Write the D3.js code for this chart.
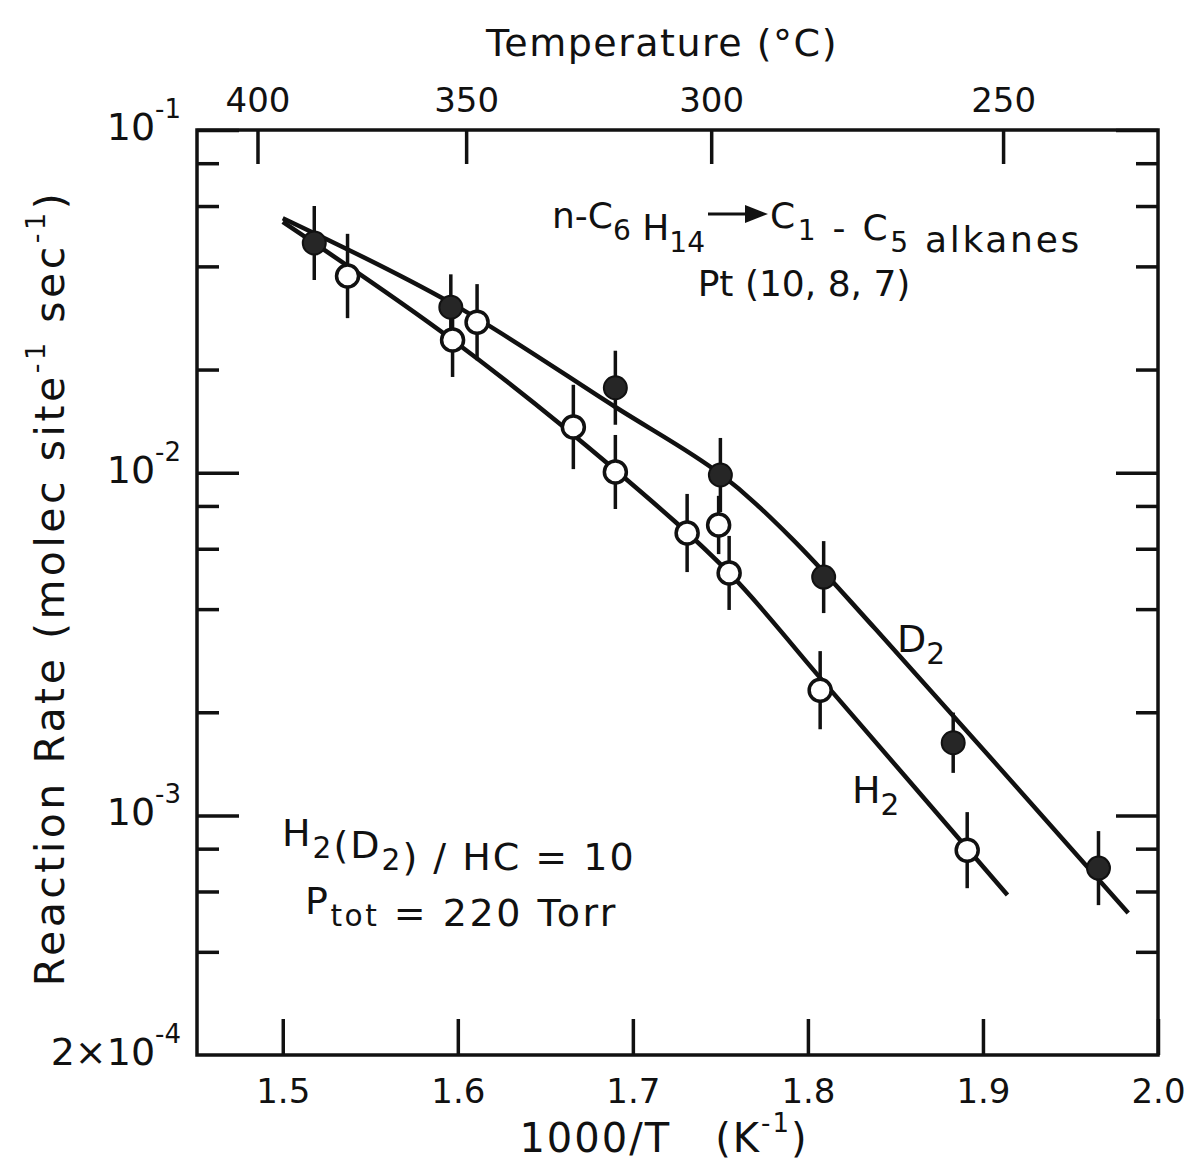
<!DOCTYPE html>
<html>
<head>
<meta charset="utf-8">
<script src="https://cdn.jsdelivr.net/npm/d3@7"></script>
<style>
  body { margin: 0; background: #fff; }
  svg text { font-family: "DejaVu Sans", sans-serif; fill: #111; }
</style>
</head>
<body>
<div class="container"></div>
<script>
// axis ticks
const xTicks = [1.5, 1.6, 1.7, 1.8, 1.9, 2.0];
const tempTicks = [400, 350, 300, 250];
const yMajor = [1e-1, 1e-2, 1e-3];
const yMinor = [8e-2, 6e-2, 4e-2, 2e-2, 8e-3, 6e-3, 4e-3, 2e-3, 8e-4, 6e-4, 4e-4];

// D2 points (filled)
const d2X = [1.518, 1.596, 1.690, 1.750, 1.809, 1.883, 1.966];
const d2Rate = [0.0468, 0.0304, 0.0177, 0.00985, 0.00496, 0.00163, 0.000702];
const d2Err = [0.108, 0.096, 0.108, 0.108, 0.105, 0.088, 0.108];

// H2 points (open)
const h2X = [1.537, 1.597, 1.611, 1.666, 1.690, 1.731, 1.749, 1.755, 1.807, 1.891];
const h2Rate = [0.0375, 0.0244, 0.0275, 0.0136, 0.01005, 0.00667, 0.00704, 0.0051, 0.00232, 0.000792];
const h2Err = [0.123, 0.108, 0.111, 0.123, 0.108, 0.114, 0.085, 0.108, 0.114, 0.111];

// hand-drawn fit curves
const d2FitX = [1.500, 1.596, 1.690, 1.750, 1.790, 1.839, 1.983];
const d2FitRate = [0.0553, 0.0313, 0.01555, 0.00991, 0.00649, 0.00348, 0.000519];
const h2FitX = [1.500, 1.597, 1.690, 1.755, 1.807, 1.914];
const h2FitRate = [0.0539, 0.0244, 0.01018, 0.0051, 0.00252, 0.000586];

const width = 1195;
const height = 1165;
const margin = { top: 130, right: 37, bottom: 110, left: 197 };
const w = width - margin.left - margin.right;
const h = height - margin.top - margin.bottom;

const svg = d3.select('.container')
    .append('svg')
    .attr('width', width)
    .attr('height', height);

const g = svg.append('g')
    .attr('transform', `translate(${margin.left}, ${margin.top})`);

const x = d3.scaleLinear().domain([1.451, 2.0]).range([0, w]);
const y = d3.scaleLog().domain([2e-4, 1e-1]).range([h, 0]);

function styleAxis(sel) {
    sel.select('.domain').remove();
    sel.selectAll('.tick line').attr('stroke', '#111').attr('stroke-width', 3.5);
    sel.selectAll('.tick text').style('font-size', '34px').attr('fill', '#111');
}

// left / right ticks
g.append('g').call(d3.axisLeft(y).tickValues(yMajor).tickSize(-42).tickFormat('')).call(styleAxis);
g.append('g').call(d3.axisLeft(y).tickValues(yMinor).tickSize(-22).tickFormat('')).call(styleAxis);
g.append('g').attr('transform', `translate(${w},0)`)
    .call(d3.axisRight(y).tickValues(yMajor).tickSize(-42).tickFormat('')).call(styleAxis);
g.append('g').attr('transform', `translate(${w},0)`)
    .call(d3.axisRight(y).tickValues(yMinor).tickSize(-22).tickFormat('')).call(styleAxis);

// bottom ticks
g.append('g').attr('transform', `translate(0,${h})`)
    .call(d3.axisBottom(x).tickValues(xTicks).tickSize(-36).tickPadding(24).tickFormat(d3.format('.1f')))
    .call(styleAxis);

// top temperature ticks
g.append('g')
    .call(d3.axisTop(x).tickValues(tempTicks.map(t => 1000 / (t + 273.15)))
        .tickSize(-34).tickPadding(18).tickFormat((d, i) => tempTicks[i]))
    .call(styleAxis);

// frame
g.append('rect')
    .attr('width', w).attr('height', h)
    .attr('fill', 'none').attr('stroke', '#111').attr('stroke-width', 3.5);

// y tick labels
const yLabels = [
    { v: 1e-1, base: '10', sup: '-1' },
    { v: 1e-2, base: '10', sup: '-2' },
    { v: 1e-3, base: '10', sup: '-3' },
    { v: 2e-4, base: '2\u00d710', sup: '-4' }
];
yLabels.forEach(l => {
    const t = g.append('text')
        .attr('x', -16).attr('y', y(l.v) + 10)
        .attr('text-anchor', 'end')
        .style('font-size', '38px');
    t.append('tspan').text(l.base);
    t.append('tspan').attr('dy', -22).style('font-size', '26px').text(l.sup);
});

// fit curves
const line = d3.line()
    .x(d => x(d[0]))
    .y(d => y(d[1]))
    .curve(d3.curveCatmullRom.alpha(0.5));

g.append('path')
    .attr('d', line(d2FitX.map((v, i) => [v, d2FitRate[i]])))
    .attr('fill', 'none').attr('stroke', '#111').attr('stroke-width', 4.5);
g.append('path')
    .attr('d', line(h2FitX.map((v, i) => [v, h2FitRate[i]])))
    .attr('fill', 'none').attr('stroke', '#111').attr('stroke-width', 4.5);

// error bars
function errBars(xs, rates, errs) {
    g.append('g').selectAll('line')
        .data(xs)
        .join('line')
        .attr('x1', d => x(d)).attr('x2', d => x(d))
        .attr('y1', (d, i) => y(rates[i] * Math.pow(10, errs[i])))
        .attr('y2', (d, i) => y(rates[i] / Math.pow(10, errs[i])))
        .attr('stroke', '#111').attr('stroke-width', 3.5);
}
errBars(d2X, d2Rate, d2Err);
errBars(h2X, h2Rate, h2Err);

// markers
g.append('g').selectAll('circle')
    .data(h2X)
    .join('circle')
    .attr('cx', d => x(d)).attr('cy', (d, i) => y(h2Rate[i]))
    .attr('r', 11)
    .attr('fill', '#fff').attr('stroke', '#111').attr('stroke-width', 3.5);

g.append('g').selectAll('circle')
    .data(d2X)
    .join('circle')
    .attr('cx', d => x(d)).attr('cy', (d, i) => y(d2Rate[i]))
    .attr('r', 11.5)
    .attr('fill', '#262626').attr('stroke', '#111').attr('stroke-width', 2);

// axis titles
svg.append('text')
    .attr('x', 662).attr('y', 56)
    .attr('text-anchor', 'middle')
    .style('font-size', '38px')
    .style('letter-spacing', '1.5px')
    .text('Temperature (\u00b0C)');

const xt = svg.append('text')
    .attr('x', 664).attr('y', 1152)
    .attr('text-anchor', 'middle')
    .style('font-size', '40px')
    .style('letter-spacing', '2px');
xt.append('tspan').text('1000/T\u00a0\u00a0\u00a0(K');
xt.append('tspan').attr('dy', -20).style('font-size', '26px').text('-1');
xt.append('tspan').attr('dy', 20).text(')');

const yt = svg.append('text')
    .attr('transform', 'translate(64, 588) rotate(-90)')
    .attr('text-anchor', 'middle')
    .style('font-size', '41px')
    .style('letter-spacing', '3.5px');
yt.append('tspan').text('Reaction Rate (molec site');
yt.append('tspan').attr('dy', -19).style('font-size', '27px').text('-1');
yt.append('tspan').attr('dy', 19).text(' sec');
yt.append('tspan').attr('dy', -19).style('font-size', '27px').text('-1');
yt.append('tspan').attr('dy', 19).text(')');

// annotations
function subText(xPos, yPos, parts, size, spacing, anchor) {
    const t = svg.append('text')
        .attr('x', xPos).attr('y', yPos)
        .attr('text-anchor', anchor || 'start')
        .style('font-size', size + 'px')
        .style('letter-spacing', (spacing || 0) + 'px');
    parts.forEach(p => {
        if (p.sub) {
            t.append('tspan').attr('dy', 12).style('font-size', (size * 0.78) + 'px').text(p.sub);
            t.append('tspan').attr('dy', -12).text('');
        } else {
            t.append('tspan').text(p.t);
        }
    });
    return t;
}

subText(705, 228, [{ t: 'n-C' }, { sub: '6' }, { t: ' H' }, { sub: '14' }], 36, 0, 'end');
svg.append('line')
    .attr('x1', 708).attr('x2', 748).attr('y1', 214).attr('y2', 214)
    .attr('stroke', '#111').attr('stroke-width', 3);
svg.append('path')
    .attr('d', 'M745,205 L768,214 L745,223 Z')
    .attr('fill', '#111');
subText(770, 228, [{ t: 'C' }, { sub: '1' }, { t: ' - C' }, { sub: '5' }, { t: ' alkanes' }], 36, 2.7);

svg.append('text')
    .attr('x', 804).attr('y', 296)
    .attr('text-anchor', 'middle')
    .style('font-size', '36px')
    .text('Pt (10, 8, 7)');

subText(897, 652, [{ t: 'D' }, { sub: '2' }], 38);
subText(852, 803, [{ t: 'H' }, { sub: '2' }], 38);

subText(282, 846, [{ t: 'H' }, { sub: '2' }, { t: '(D' }, { sub: '2' }, { t: ') / HC = 10' }], 38, 2);
subText(305, 914, [{ t: 'P' }, { sub: 'tot' }, { t: ' = 220 Torr' }], 38, 2.5);
</script>
</body>
</html>
